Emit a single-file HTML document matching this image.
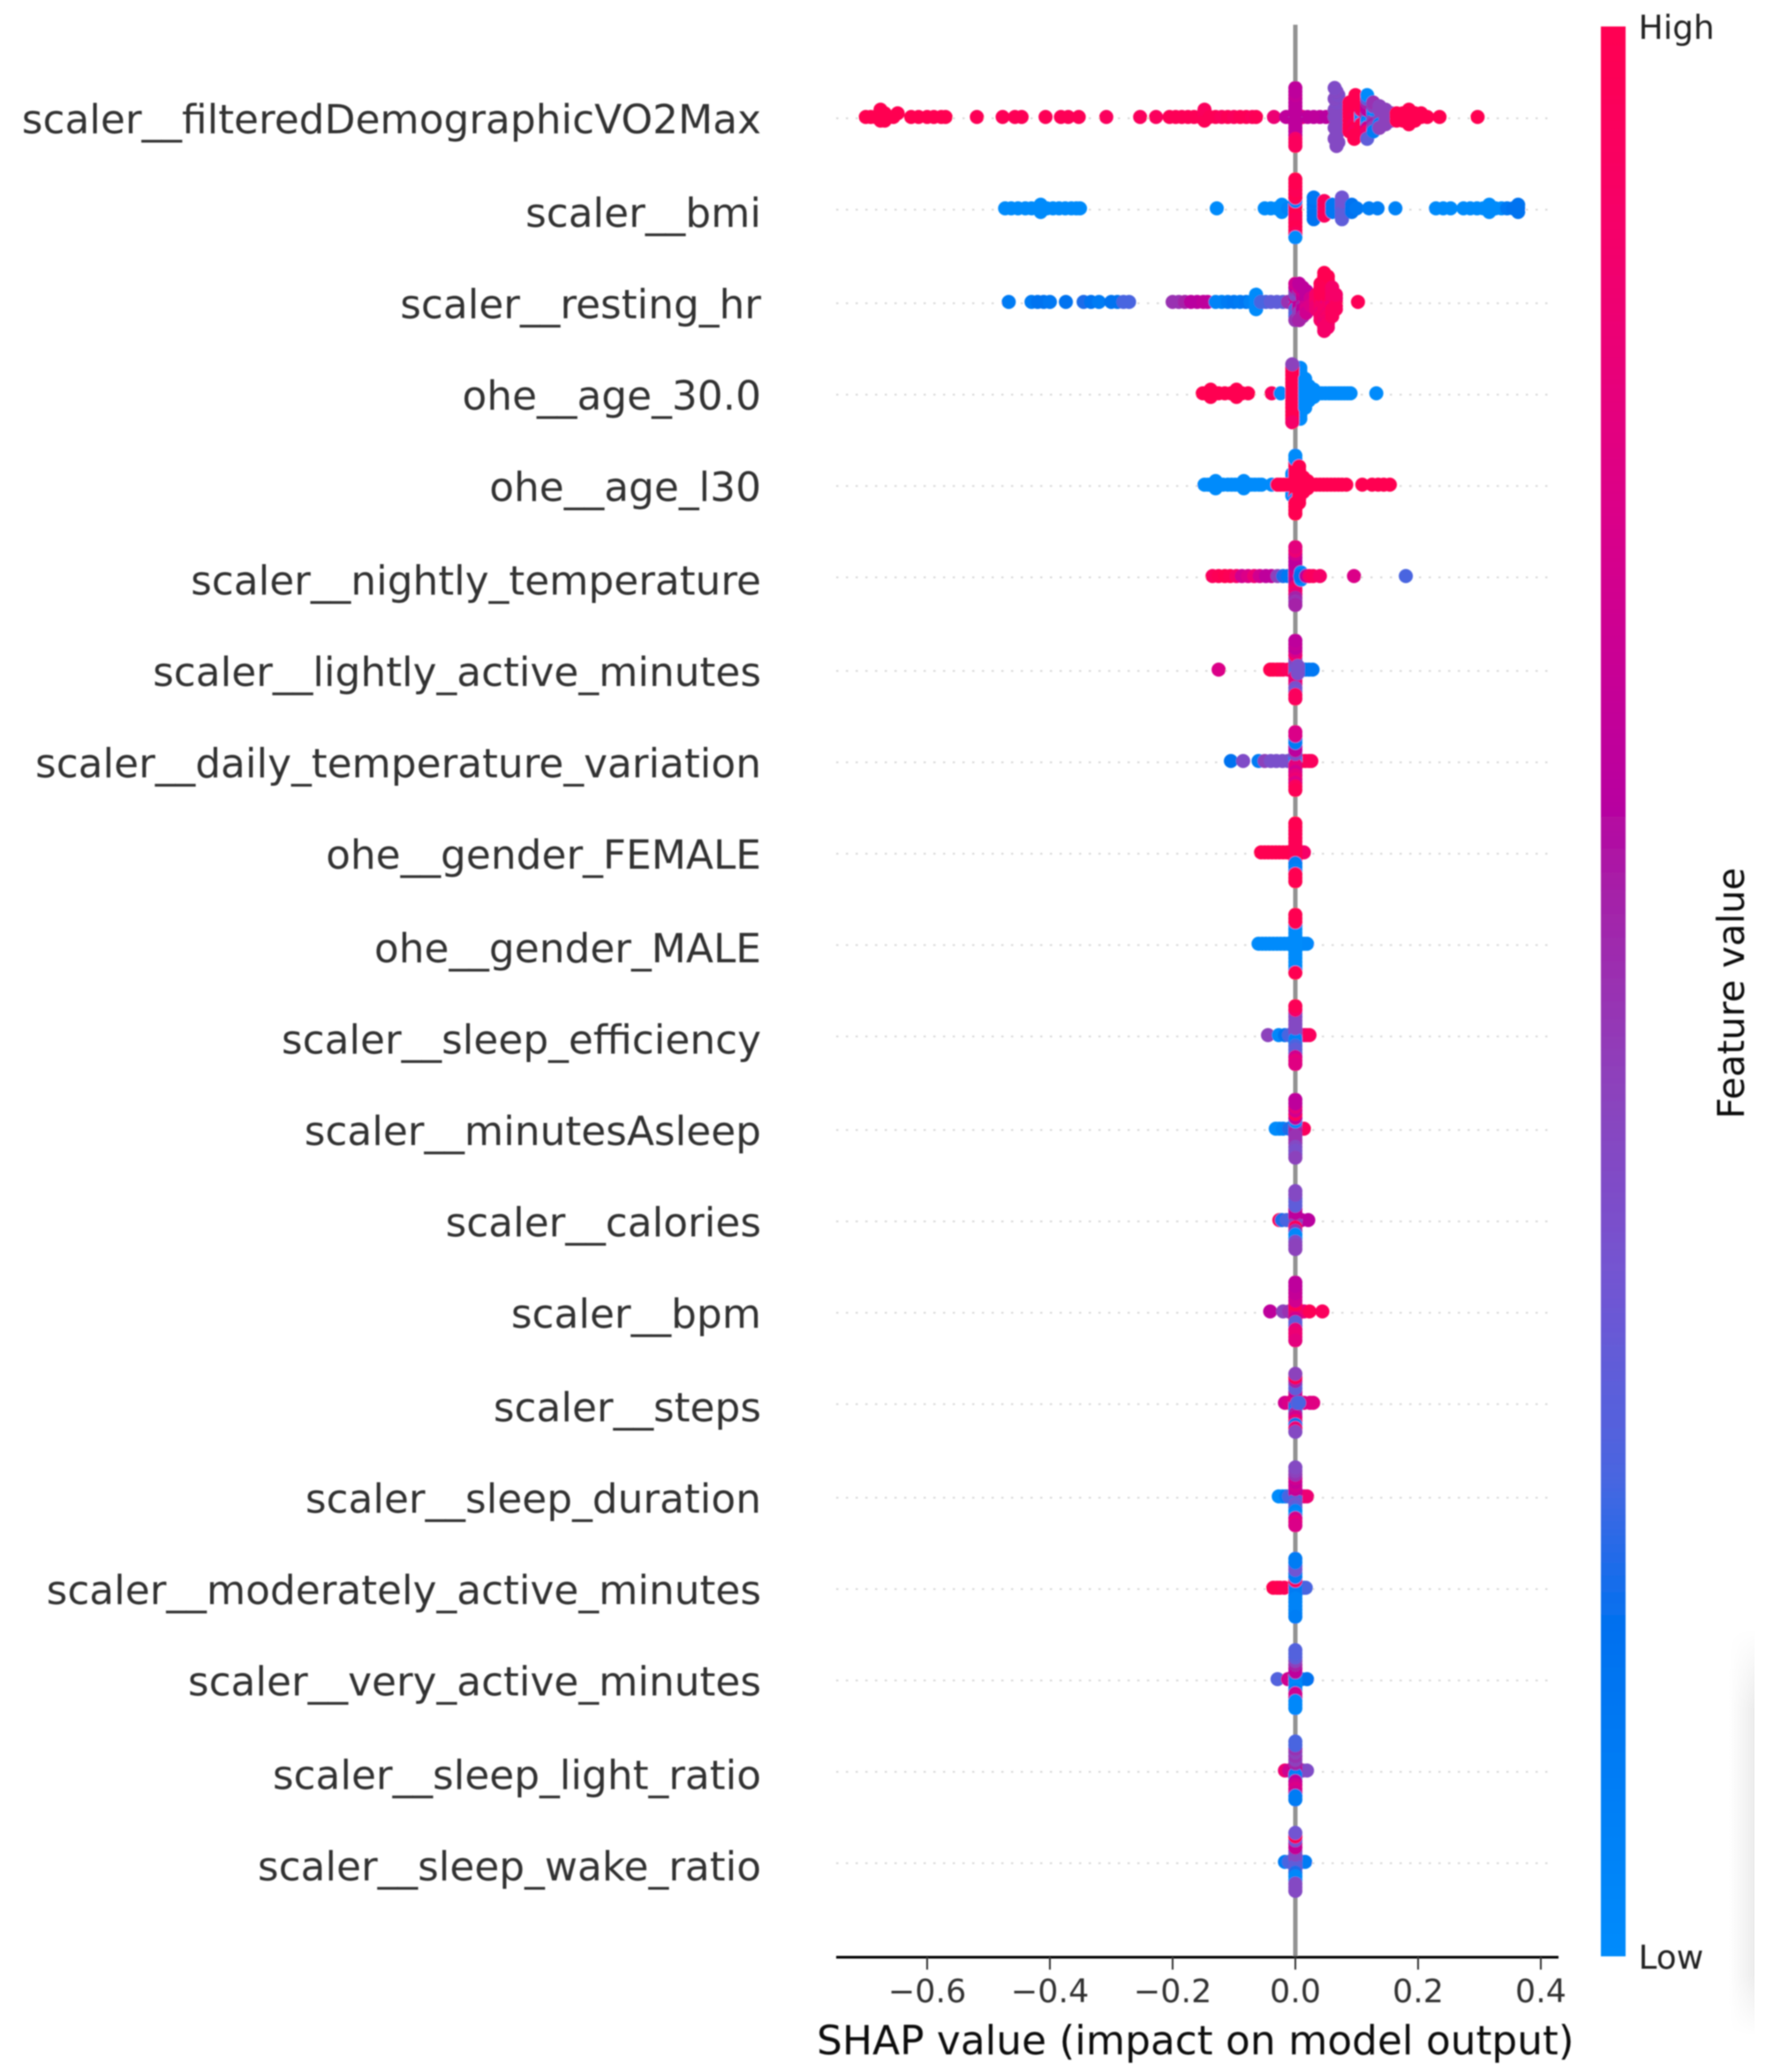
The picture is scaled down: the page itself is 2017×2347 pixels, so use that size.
<!DOCTYPE html>
<html lang="en">
<head>
<meta charset="utf-8">
<title>SHAP summary plot</title>
<style>
html,body{margin:0;padding:0;background:#fff;width:2017px;height:2347px;overflow:hidden}
svg{display:block;font-family:"DejaVu Sans","Liberation Sans",sans-serif}
</style>
</head>
<body>
<svg id="chart" xmlns="http://www.w3.org/2000/svg" width="2017" height="2347" viewBox="0 0 2017 2347">
<defs>
<linearGradient id="cbar" x1="0" y1="1" x2="0" y2="0">
<stop offset="0" stop-color="#008bfb"/><stop offset=".17" stop-color="#0070ef"/><stop offset=".25" stop-color="#4a65e0"/><stop offset=".35" stop-color="#7255d2"/><stop offset=".45" stop-color="#8c42bc"/><stop offset=".55" stop-color="#a521a8"/><stop offset=".6" stop-color="#b9009f"/><stop offset=".75" stop-color="#db0088"/><stop offset=".9" stop-color="#f60068"/><stop offset="1" stop-color="#ff0051"/>
</linearGradient>
<linearGradient id="shadeH" x1="0" y1="0" x2="1" y2="0"><stop offset="0" stop-color="#fff"/><stop offset="1" stop-color="#ececec"/></linearGradient>
<linearGradient id="shadeV" x1="0" y1="0" x2="0" y2="1"><stop offset="0" stop-color="#000"/><stop offset=".2" stop-color="#fff"/><stop offset=".85" stop-color="#fff"/><stop offset="1" stop-color="#000"/></linearGradient>
<mask id="shadeMask" maskUnits="userSpaceOnUse" x="1958" y="1845" width="29" height="461"><rect x="1958" y="1845" width="29" height="461" fill="url(#shadeV)"/></mask>
<filter id="soft" x="-2%" y="-2%" width="104%" height="104%"><feGaussianBlur stdDeviation="0.7"/></filter>
</defs>
<rect width="2017" height="2347" fill="#fff"/>
<rect x="1958" y="1845" width="29" height="461" fill="url(#shadeH)" mask="url(#shadeMask)"/>
<g id="plot" filter="url(#soft)">
<g id="grid"></g>
<line x1="1467" y1="28" x2="1467" y2="2217" stroke="#929292" stroke-width="5"/>
<g id="dots"></g>
<g id="ylabels"></g>
<line x1="947" y1="2217" x2="1765" y2="2217" stroke="#000" stroke-width="3"/>
<g id="xticks"></g>
<text x="925" y="2327" font-size="45.45" fill="#111">SHAP value (impact on model output)</text>
<rect x="1813" y="30" width="28" height="2186" fill="url(#cbar)"/>
<text x="1855.5" y="44" font-size="37.5" fill="#222">High</text>
<text x="1855.5" y="2230" font-size="37.5" fill="#222">Low</text>
<text transform="translate(1975 1125) rotate(-90)" text-anchor="middle" font-size="41.7" fill="#111">Feature value</text>
</g>
</svg>
<script>
const featureLabels=["scaler__filteredDemographicVO2Max","scaler__bmi","scaler__resting_hr","ohe__age_30.0","ohe__age_l30","scaler__nightly_temperature","scaler__lightly_active_minutes","scaler__daily_temperature_variation","ohe__gender_FEMALE","ohe__gender_MALE","scaler__sleep_efficiency","scaler__minutesAsleep","scaler__calories","scaler__bpm","scaler__steps","scaler__sleep_duration","scaler__moderately_active_minutes","scaler__very_active_minutes","scaler__sleep_light_ratio","scaler__sleep_wake_ratio"];
const xTickValues=[-0.6,-0.4,-0.2,0,0.2,0.4];
const xTickLabels=["\u22120.6","\u22120.4","\u22120.2","0.0","0.2","0.4"];
/* each point: [SHAP value, normalised feature value] */
const vo2maxPoints=[[-.7,1],[-.692,1],[-.684,1],[-.676,1],[-.676,1],[-.676,1],[-.669,1],[-.669,1],[-.669,1],[-.663,1],[-.655,1],[-.648,1],[-.626,1],[-.614,1],[-.6,1],[-.589,1],[-.577,1],[-.57,1],[-.519,.98],[-.477,.98],[-.457,.98],[-.446,.98],[-.407,.98],[-.382,.98],[-.37,.98],[-.353,.98],[-.308,.95],[-.253,.95],[-.227,.95],[-.205,.98],[-.195,.98],[-.185,.98],[-.175,.98],[-.165,.98],[-.155,.98],[-.148,.95],[-.148,.98],[-.148,.95],[-.14,.98],[-.13,.98],[-.12,.95],[-.11,.98],[-.1,.95],[-.09,.98],[-.08,.98],[-.07,.95],[-.064,.98],[-.035,.85],[-.015,.62],[.012,.82],[.02,.62],[.03,.62],[.04,.62],[.05,.6],
[0,.55],[0,.62],[0,.62],[0,.62],[0,.62],[0,.62],[0,.62],[0,.62],[0,.62],[0,.62],[0,.62],[0,.65],[0,.9],[0,.62],[0,.95],[0,.62],[0,.95],
[.064,.42],[.067,.42],[.07,.42],[.064,.42],[.067,.42],[.07,.42],[.064,.42],[.067,.4],[.07,.42],[.064,.42],[.067,.42],[.07,.4],[.064,.42],[.067,.42],[.07,.42],[.064,.4],[.067,.42],
[.088,1],[.088,1],[.088,1],[.088,1],[.088,1],[.088,1],[.088,1],[.088,1],[.088,1],
[.096,1],[.098,.95],[.096,1],[.098,1],[.096,.95],[.098,1],[.096,1],[.098,1],[.096,.95],[.098,1],[.096,1],[.098,1],[.096,1],
[.107,0],[.107,0],[.107,0],[.107,.9],[.107,.95],[.107,1],[.107,1],[.107,1],[.107,1],
[.117,.5],[.117,.45],[.117,.1],[.117,.62],[.117,0],[.117,.62],[.117,.65],[.117,.55],[.117,.9],[.117,.3],[.117,.85],[.117,0],[.117,.3],
[.127,.45],[.127,.1],[.127,.45],[.127,0],[.127,.55],[.127,.45],[.127,.45],[.127,.5],[.127,.1],
[.137,.45],[.137,.1],[.137,.45],[.137,.45],[.137,.1],[.137,.45],[.137,.45],
[.147,.45],[.147,.45],[.147,.45],[.147,.45],[.147,.45],[.157,.45],[.157,.45],[.157,.45],
[.165,1],[.165,1],[.165,1],[.175,1],[.175,1],[.175,1],[.185,1],[.185,1],[.185,1],[.185,1],[.185,1],[.195,1],[.195,1],[.195,1],[.205,1],[.205,1],[.215,1],[.235,1],[.297,1]];
const bmiPoints=[[-.473,0],[-.463,0],[-.452,0],[-.44,0],[-.43,0],[-.42,0],[-.415,0],[-.415,0],[-.415,0],[-.405,0],[-.395,0],[-.385,0],[-.375,0],[-.365,0],[-.357,0],[-.351,0],[-.128,0],[-.05,0],[-.04,0],[-.03,0],[-.022,0],[-.022,0],[-.022,0],[-.012,.05],
[0,1],[0,.98],[0,.98],[0,.05],[0,1],[0,.98],[0,.98],[0,1],[0,.98],[0,.98],[0,1],[0,.98],[0,1],[0,1],[0,.95],[0,1],[0,0],
[.03,.15],[.03,.15],[.03,.12],[.03,.15],[.03,.15],[.03,.12],[.03,.15],[.047,.95],[.047,.95],[.047,.9],[.047,.95],[.047,.95],[.06,.12],[.06,.12],[.06,.12],[.076,.35],[.076,.35],[.076,.3],[.076,.35],[.076,.3],[.076,.35],[.076,.3],[.092,.15],[.092,.15],[.092,.15],[.1,.12],[.12,.08],[.134,.08],[.163,.05],
[.229,0],[.241,0],[.253,0],[.274,0],[.285,0],[.296,0],[.306,0],[.316,0],[.316,0],[.316,0],[.326,0],[.336,0],[.345,.12],[.355,.15],[.363,.15],[.363,.15],[.363,.15]];
const restingHrPoints=[[-.467,.1],[-.43,.1],[-.42,.15],[-.41,.15],[-.4,.12],[-.374,.15],[-.345,.2],[-.333,.15],[-.32,.1],[-.3,.15],[-.29,.15],[-.28,.25],[-.271,.25],[-.2,.5],[-.19,.5],[-.18,.55],[-.17,.6],[-.16,.6],[-.15,.62],[-.143,.62],[-.13,.05],[-.12,.05],[-.11,.1],[-.1,.12],[-.09,.1],[-.08,.12],[-.073,.05],
[-.064,0],[-.064,0],[-.064,0],[-.064,0],[-.064,0],[-.056,.25],[-.048,.25],[-.04,.3],[-.03,.3],[-.02,.3],[-.012,.5],
[0,.3],[0,.62],[0,.7],[0,.4],[0,.25],[0,.45],[0,.3],[0,.62],[0,.25],[0,.7],[0,.5],
[.006,.62],[.006,.45],[.006,.62],[.006,.4],[.006,.62],[.006,.5],[.006,.45],[.006,.7],[.006,.45],[.006,.62],[.006,.55],
[.012,.62],[.012,.62],[.012,.55],[.012,.65],[.012,.62],[.012,.7],[.012,.6],[.012,.62],[.012,.55],
[.018,.7],[.018,.62],[.018,.7],[.018,.62],[.018,.75],[.018,.62],[.018,.7],[.025,.75],[.025,.7],[.025,.75],
[.034,.85],[.034,.9],[.034,.85],[.034,.9],[.034,.85],
[.041,.98],[.041,.95],[.041,.9],[.041,.98],[.041,.9],[.041,.98],[.041,.85],[.041,.98],[.041,.9],[.041,.98],[.041,.9],
[.047,.85],[.047,.98],[.047,.9],[.047,.98],[.047,.9],[.047,.98],[.047,.9],[.047,.98],[.047,.88],[.047,.98],[.047,.88],[.047,.98],[.047,.85],[.047,1],[.047,.9],[.047,1],[.047,.9],
[.053,.75],[.053,.95],[.053,.9],[.053,.98],[.053,.9],[.053,.98],[.053,.88],[.053,.98],[.053,.9],[.053,.98],[.053,.88],[.053,.98],[.053,.9],[.053,1],[.053,.9],
[.06,.85],[.06,.9],[.06,.85],[.06,.9],[.06,.95],[.06,.9],[.06,.95],[.06,.9],[.06,.95],[.066,.9],[.066,.9],[.066,.95],[.066,.9],[.066,.95],[.102,.98]];
const age30Points=[[.008,0],[.008,0],[.008,0],[.008,0],[.008,0],[.008,0],[.008,0],[.008,0],[.008,0],[.008,0],[.008,0],[.008,0],[.008,0],[.008,0],[.008,0],
[-.151,1],[-.145,1],[-.138,1],[-.138,1],[-.138,1],[-.131,1],[-.125,1],[-.115,1],[-.105,1],[-.096,1],[-.096,1],[-.096,1],[-.087,1],[-.077,1],[-.0385,.95],[-.024,0],
[-.005,1],[-.005,1],[-.005,1],[-.005,1],[-.005,1],[-.005,1],[-.005,1],[-.005,1],[-.005,1],[-.005,1],[-.005,1],[-.005,1],[-.005,1],[-.005,1],[-.005,1],[-.005,.45],[-.005,.9],
[.016,0],[.016,0],[.016,0],[.016,0],[.016,0],[.016,0],[.016,0],[.016,0],[.016,0],[.022,0],[.022,0],[.022,0],[.022,0],[.022,0],[.03,0],[.03,0],[.03,0],[.037,0],[.043,0],[.049,0],[.055,0],[.06,0],[.065,0],[.07,0],[.075,0],[.08,0],[.085,0],[.09,0],[.132,0]];
const ageL30Points=[[-.005,0],[-.005,0],[-.005,0],[-.005,0],[-.005,0],[-.005,0],[-.005,0],
[-.148,0],[-.142,0],[-.136,0],[-.13,0],[-.13,0],[-.13,0],[-.124,0],[-.118,0],[-.11,0],[-.104,0],[-.098,0],[-.092,0],[-.084,0],[-.084,0],[-.084,0],[-.078,0],[-.072,0],[-.066,0],[-.06,0],[-.055,0],[-.0385,0],
[0,1],[0,1],[0,0],[0,1],[0,0],[0,1],[0,1],[0,1],[0,0],[0,1],[0,1],[0,1],[0,1],[0,0],[0,1],[0,0],[0,1],
[.006,1],[.006,1],[.006,1],[.006,1],[.006,1],[.006,1],[.006,1],[.006,1],[.006,1],[.006,1],[.006,1],
[.013,1],[.013,1],[.013,1],[.013,1],[.013,1],[.02,1],[.02,1],[.02,1],
[-.029,1],[-.024,1],[-.018,1],[-.012,1],[.027,1],[.034,1],[.04,1],[.046,1],[.052,1],[.058,1],[.064,1],[.07,1],[.076,1],[.083,1],[.109,1],[.125,1],[.135,1],[.144,1],[.154,1]];
const nightlyTempPoints=[[-.135,.95],[-.125,.98],[-.115,1],[-.106,.98],[-.096,.9],[-.087,.7],[-.077,.75],[-.067,.85],[-.058,.7],[-.048,.62],[-.039,.62],[-.029,.45],[-.02,.2],[-.012,.12],
[0,.8],[0,.8],[0,.7],[0,.7],[0,.62],[0,.62],[0,.85],[0,.62],[0,.9],[0,.62],[0,.82],[0,.7],[0,.55],[0,.85],[0,.5],[0,.8],[0,.55],
[.009,.02],[.009,.02],[.009,.02],[.008,.15],[.018,.6],[.023,.9],[.029,.95],[.04,.9],[.0955,.75],[.18,.25]];
const lightlyActivePoints=[[-.125,.75],[-.041,1],[-.036,1],[-.03,1],[-.025,1],[-.02,.98],[-.012,.95],[.01,.15],[.016,.15],[.022,.12],[.028,.12],
[0,.35],[0,.32],[0,.25],[0,.38],[0,.8],[0,.45],[0,.85],[0,.9],[0,.8],[0,.75],[0,.38],[0,.62],[0,.35],[0,.65],[0,.95],[0,.62],[0,.95],
[.004,.38],[.004,.38],[.004,.38]];
const dailyTempVarPoints=[[-.105,.15],[-.085,.4],[-.06,.1],[-.05,.45],[-.04,.38],[-.031,.38],[-.021,.38],[-.012,.38],[.004,.95],[.01,.98],[.016,.98],[.022,.95],[.026,.95],
[0,.02],[0,.05],[0,.8],[0,.4],[0,.8],[0,.62],[0,.7],[0,.6],[0,.8],[0,.1],[0,.85],[0,.1],[0,.75],[0,.75],[0,.95],[0,.75],[0,.98]];
const femalePoints=[[-.056,1],[-.05,1],[-.044,1],[-.038,1],[-.032,1],[-.026,1],[-.02,1],[-.014,1],[-.01,1],[.009,.9],[.014,.9],
[0,1],[0,.98],[0,.98],[0,.98],[0,.98],[0,.98],[0,.1],[0,.98],[0,.1],[0,.98],[0,.05],[0,.98],[0,1],[0,.98],[0,1],[0,1],[0,1]];
const malePoints=[[-.06,0],[-.054,0],[-.048,0],[-.042,0],[-.036,0],[-.03,0],[-.024,0],[-.018,0],[-.012,0],[.009,.02],[.014,.02],[.019,.02],
[0,0],[0,0],[0,0],[0,0],[0,0],[0,0],[0,0],[0,0],[0,0],[0,0],[0,0],[0,1],[0,0],[0,1],[0,0],[0,1],[0,1]];
const sleepEfficiencyPoints=[[-.0446,.45],[-.027,.02],[-.017,.15],[-.01,.25],[.014,.8],[.018,.85],[.023,.95],
[0,.3],[0,.42],[0,.05],[0,.42],[0,.05],[0,.42],[0,.25],[0,.42],[0,.3],[0,.42],[0,.3],[0,.42],[0,.7],[0,.9],[0,.8],[0,.98],[0,.78]];
const minutesAsleepPoints=[[-.032,0],[-.026,0],[-.02,.05],[-.01,.2],[.009,.6],[.014,.95],
[0,.55],[0,.45],[0,.55],[0,.02],[0,.5],[0,.62],[0,.5],[0,.95],[0,.5],[0,.7],[0,.42],[0,.8],[0,.38],[0,.62],[0,.38],[0,.62],[0,.45]];
const caloriesPoints=[[-.026,.98],[-.022,.2],[-.014,.25],[-.006,.25],[.01,.62],[.021,.6],
[0,.25],[0,.62],[0,.45],[0,.62],[0,.95],[0,.62],[0,.5],[0,.3],[0,.02],[0,.3],[0,.02],[0,.3],[0,.4],[0,.42],[0,.45],[0,.42],[0,.45]];
const bpmPoints=[[-.041,.62],[-.02,.45],[-.01,.5],[.004,.85],[.014,.8],[.023,.98],[.044,.95],
[0,.85],[0,.95],[0,.85],[0,.98],[0,.7],[0,.7],[0,.3],[0,.7],[0,.3],[0,.65],[0,.8],[0,.65],[0,.85],[0,.62],[0,.85],[0,.62],[0,.8]];
const stepsPoints=[[-.017,.7],[-.01,.75],[.014,.75],[.024,.75],[.029,.78],
[0,.3],[0,.8],[0,.15],[0,.8],[0,.1],[0,.62],[0,.55],[0,.3],[0,.7],[0,.3],[0,.85],[0,.55],[0,.15],[0,.98],[0,.85],[0,.45],[0,.42],
[.003,.3],[.006,.25]];
const sleepDurationPoints=[[-.027,0],[-.021,0],[-.015,.1],[-.01,.25],[.014,.75],[.019,.85],
[0,.25],[0,.65],[0,.25],[0,.65],[0,.35],[0,.7],[0,.3],[0,.65],[0,.05],[0,.7],[0,.02],[0,.5],[0,.7],[0,.45],[0,.8],[0,.42],[0,.75]];
const moderatelyActivePoints=[[-.036,1],[-.03,1],[-.025,1],[-.018,.98],[.014,.2],[.017,.25],
[0,.12],[0,.1],[0,.1],[0,.95],[0,.1],[0,.1],[0,.05],[0,.1],[0,.05],[0,.35],[0,.05],[0,.35],[0,.05],[0,.1],[0,.05],[0,.1],[0,.08]];
const veryActivePoints=[[-.029,.27],[-.012,.7],[.003,.02],[.01,.05],[.019,.15],
[0,.02],[0,.05],[0,.05],[0,.62],[0,.02],[0,.62],[0,.05],[0,.55],[0,.7],[0,.45],[0,.7],[0,.3],[0,.02],[0,.27],[0,.02],[0,.27],[0,.02]];
const sleepLightPoints=[[-.017,.85],[-.01,.7],[.012,.5],[.019,.4],
[0,.65],[0,.65],[0,.1],[0,.55],[0,.05],[0,.45],[0,.6],[0,.5],[0,.7],[0,.45],[0,.75],[0,.5],[0,.7],[0,.25],[0,.1],[0,.25],[0,.1]];
const sleepWakePoints=[[-.017,.08],[-.01,.25],[.011,.45],[.016,.1],
[0,.3],[0,.42],[0,.3],[0,.42],[0,.3],[0,.42],[0,.2],[0,.65],[0,.02],[0,.65],[0,.02],[0,.35],[0,.42],[0,.98],[0,.42],[0,.35],[0,.42]];
const seriesPoints=[vo2maxPoints,bmiPoints,restingHrPoints,age30Points,ageL30Points,nightlyTempPoints,lightlyActivePoints,dailyTempVarPoints,femalePoints,malePoints,sleepEfficiencyPoints,minutesAsleepPoints,caloriesPoints,bpmPoints,stepsPoints,sleepDurationPoints,moderatelyActivePoints,veryActivePoints,sleepLightPoints,sleepWakePoints];

const NS="http://www.w3.org/2000/svg";
function xScale(v){return 1467+695*v;}
/* row guides sit on a pixel-snapped grid in the source raster: 103.5px steps with periodic 2.5px jumps */
function yScale(row){return 134+103.5*row+2.5*Math.floor((row+2.8)/4.4);}
function labelBaseline(row){return 151.2+103.5*row+2.5*Math.floor((row+3.8)/4.25);}
const colorStops=[[0,0,139,251],[.17,0,112,239],[.25,74,101,224],[.35,114,85,210],[.45,140,66,188],[.55,165,33,168],[.6,185,0,159],[.75,219,0,136],[.9,246,0,104],[1,255,0,81]];
function colorScale(t){
  t=Math.max(0,Math.min(1,t));
  for(let i=1;i<colorStops.length;i++){
    if(t<=colorStops[i][0]){
      const a=colorStops[i-1],b=colorStops[i],f=(t-a[0])/(b[0]-a[0]);
      return "rgb("+[1,2,3].map(k=>Math.round(a[k]+(b[k]-a[k])*f)).join(",")+")";
    }
  }
  return "rgb(255,0,81)";
}
/* beeswarm: points sharing a bin stack outward from the row centre */
function swarmOffsets(points){
  const values=points.map(p=>p[0]);
  const lo=Math.min.apply(null,values),hi=Math.max.apply(null,values);
  const bins=values.map(v=>Math.round(100*(v-lo)/(hi-lo+1e-8)));
  const order=points.map((p,i)=>i).sort((a,b)=>bins[a]-bins[b]||a-b);
  const ys=new Array(points.length).fill(0);
  let layer=0,last=-1;
  order.forEach(i=>{
    if(bins[i]!==last){layer=0;}
    ys[i]=Math.ceil(layer/2)*((layer%2)*2-1);
    layer++;last=bins[i];
  });
  const maxY=Math.max.apply(null,ys.map(Math.abs));
  return ys.map(y=>y*37/(maxY+1));
}
const gridG=document.getElementById("grid"),dotsG=document.getElementById("dots"),labelG=document.getElementById("ylabels"),tickG=document.getElementById("xticks");
featureLabels.forEach((label,row)=>{
  const y=yScale(row);
  const guide=document.createElementNS(NS,"line");
  
  
  guide.setAttribute("x1",947);guide.setAttribute("x2",1759);
  guide.setAttribute("y1",y);guide.setAttribute("y2",y);
  guide.setAttribute("stroke","#d8d8d8");guide.setAttribute("stroke-width",2);
  guide.setAttribute("stroke-dasharray","2.5 8.5");
  gridG.appendChild(guide);
  const text=document.createElementNS(NS,"text");
  
  
  text.setAttribute("x",862);text.setAttribute("y",labelBaseline(row));
  text.setAttribute("text-anchor","end");text.setAttribute("font-size",45.45);
  text.setAttribute("fill","#333");
  text.textContent=label;
  labelG.appendChild(text);
});
seriesPoints.forEach((points,row)=>{
  const offsets=swarmOffsets(points);
  points.forEach((p,i)=>{
    const c=document.createElementNS(NS,"circle");
    
    
    c.setAttribute("cx",xScale(p[0]).toFixed(1));
    c.setAttribute("cy",(yScale(row)-1.5-offsets[i]).toFixed(1));
    c.setAttribute("r",8);
    c.setAttribute("fill",colorScale(p[1]));
    dotsG.appendChild(c);
  });
});
xTickValues.forEach((v,i)=>{
  const t=document.createElementNS(NS,"line");
  
  
  t.setAttribute("x1",xScale(v));t.setAttribute("x2",xScale(v));
  t.setAttribute("y1",2217);t.setAttribute("y2",2231);
  t.setAttribute("stroke","#333");t.setAttribute("stroke-width",2);
  tickG.appendChild(t);
  const l=document.createElementNS(NS,"text");
  
  
  l.setAttribute("x",xScale(v));l.setAttribute("y",2268);
  l.setAttribute("text-anchor","middle");l.setAttribute("font-size",36.5);
  l.setAttribute("fill","#333");
  l.textContent=xTickLabels[i];
  tickG.appendChild(l);
});
</script>
</body>
</html>
